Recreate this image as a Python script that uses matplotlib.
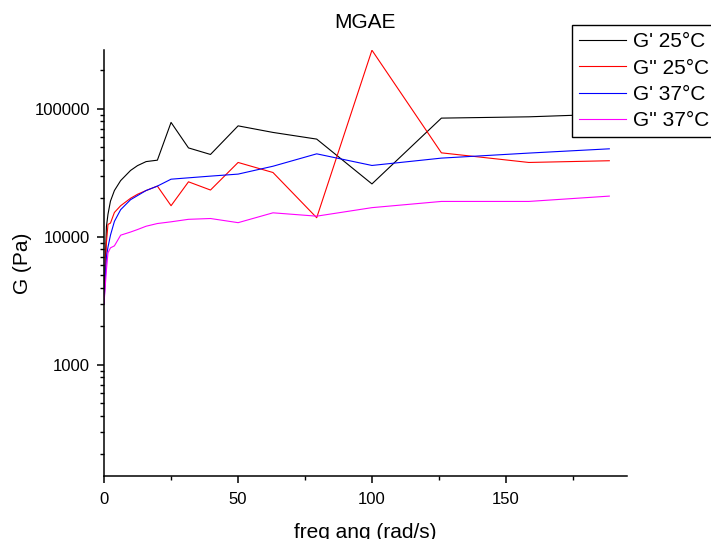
import matplotlib
matplotlib.use("Agg")
import matplotlib.pyplot as plt
from matplotlib.ticker import FixedLocator, NullFormatter, LogLocator, FuncFormatter

plt.rcParams["font.family"] = ["Liberation Sans", "DejaVu Sans"]

# angular frequency (rad/s)
freq = [0.1, 1.0, 1.58, 2.51, 3.98, 6.31, 10.0, 12.6, 15.8, 20.0,
        25.1, 31.6, 39.8, 50.1, 63.1, 79.4, 100.0, 125.9, 158.5, 188.5]

g1_25 = [3100, 12000, 15000, 19000, 23000, 27500, 33000, 36000, 38700, 39700,
         78300, 49500, 44000, 73600, 65400, 58000, 25900, 84600, 86600, 91000]
g2_25 = [3000, 9000, 12500, 12800, 15500, 17500, 20000, 21500, 23000, 24900,
         17500, 26900, 23200, 38100, 31800, 14100, 287000, 45300, 38100, 39300]
g1_37 = [3000, 7000, 8300, 10300, 13200, 16300, 19500, 21000, 23000, 24900,
         28200, 28900, 29800, 30900, 35600, 44500, 36100, 41200, 45100, 48700]
g2_37 = [3000, 5500, 7500, 8200, 8500, 10300, 10900, 11400, 12100, 12700,
         13100, 13700, 13900, 12900, 15400, 14500, 16900, 18900, 18900, 20800]

series = [
    ("G' 25°C", g1_25, "black"),
    ("G'' 25°C", g2_25, "#FF0000"),
    ("G' 37°C", g1_37, "#0000FF"),
    ("G'' 37°C", g2_37, "#FF00FF"),
]

fig = plt.figure(figsize=(7.11, 5.39), dpi=100)
ax = fig.add_axes([0.1459, 0.1174, 0.7356, 0.7898])

for label, vals, color in series:
    ax.plot(freq, vals, color=color, lw=0.8, label=label)

ax.set_yscale("log")
ax.set_xlim(0, 195)
ax.set_ylim(136, 288000)

ax.yaxis.set_major_locator(FixedLocator([1000, 10000, 100000]))
ax.yaxis.set_major_formatter(FuncFormatter(lambda v, p: f"{int(round(v))}"))
ax.yaxis.set_minor_locator(LogLocator(base=10, subs=range(2, 10)))
ax.yaxis.set_minor_formatter(NullFormatter())

ax.xaxis.set_major_locator(FixedLocator([0, 50, 100, 150]))
ax.xaxis.set_minor_locator(FixedLocator([25, 75, 125, 175]))

for s in ("top", "right"):
    ax.spines[s].set_visible(False)
for s in ("left", "bottom"):
    ax.spines[s].set_linewidth(1.1)

ax.tick_params(which="major", direction="out", length=5, width=1.1, labelsize=12)
ax.tick_params(axis="y", which="major", pad=5)
ax.tick_params(axis="x", which="major", pad=7)
ax.tick_params(which="minor", direction="out", length=3, width=1.0)

ax.set_xlabel("freq ang (rad/s)", fontsize=15, labelpad=11)
ax.set_ylabel("G (Pa)", fontsize=15, labelpad=2)
ax.set_title("MGAE", fontsize=15, pad=16)

leg = fig.legend(loc="upper left", bbox_to_anchor=(571.7 / 711, 1 - 25 / 539),
                 borderaxespad=0, fontsize=15, frameon=True, fancybox=False,
                 edgecolor="black", framealpha=1, handlelength=2.26,
                 handletextpad=0.34, borderpad=0.35, labelspacing=0.35)
leg.get_frame().set_linewidth(1.0)

fig.savefig("out.png", dpi=100)
